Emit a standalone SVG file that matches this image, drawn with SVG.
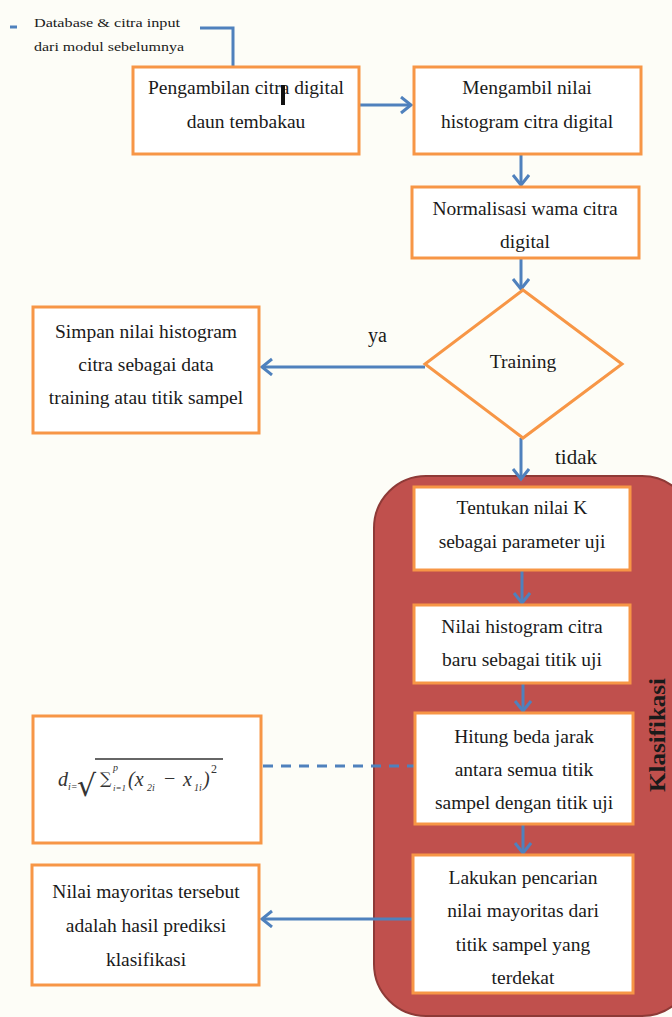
<svg xmlns="http://www.w3.org/2000/svg" width="672" height="1017" viewBox="0 0 672 1017">
<style>
.box{fill:#ffffff;stroke:#F79646;stroke-width:3}
.t{font-family:"Liberation Serif","Times New Roman",serif;font-size:19.5px;fill:#1a1a1a;text-anchor:middle}
.lbl{font-family:"Liberation Serif","Times New Roman",serif;fill:#1a1a1a}
.c{fill:none;stroke:#4F81BD;stroke-width:3}
.m{font-family:"Liberation Serif","Times New Roman",serif;font-style:italic;fill:#333333}
</style>
<defs>
<marker id="ah" markerUnits="userSpaceOnUse" markerWidth="16" markerHeight="20" refX="11" refY="9" orient="auto">
<path d="M1,1 L11,9 L1,17" fill="none" stroke="#4F81BD" stroke-width="3"/>
</marker>
</defs>
<rect x="0" y="0" width="672" height="1017" fill="#FDFDF7"/>

<g id="klasifikasi">
<rect x="374" y="476" width="320" height="540" rx="52" fill="#C0504D" stroke="#8E3A37" stroke-width="2"/>
<text class="lbl" transform="translate(665,735) rotate(-90)" font-size="23" font-weight="bold" text-anchor="middle" textLength="114" lengthAdjust="spacingAndGlyphs">Klasifikasi</text>
</g>

<g id="connectors">
<line x1="10" y1="27" x2="17" y2="27" stroke="#4F81BD" stroke-width="3"/>
<polyline class="c" points="200,28 233,28 233,67"/>
<line class="c" x1="360" y1="105" x2="411" y2="105" marker-end="url(#ah)"/>
<line class="c" x1="521" y1="155" x2="521" y2="185" marker-end="url(#ah)"/>
<line class="c" x1="521" y1="258" x2="521" y2="289" marker-end="url(#ah)"/>
<line class="c" x1="425" y1="367" x2="262" y2="367" marker-end="url(#ah)"/>
<line class="c" x1="521" y1="438" x2="521" y2="479" marker-end="url(#ah)"/>
<line class="c" x1="522" y1="571" x2="522" y2="603" marker-end="url(#ah)"/>
<line class="c" x1="523" y1="684" x2="523" y2="711" marker-end="url(#ah)"/>
<line class="c" x1="523" y1="825" x2="523" y2="853" marker-end="url(#ah)"/>
<line class="c" x1="263" y1="766" x2="414" y2="766" stroke-dasharray="10,8"/>
<line class="c" x1="413" y1="919" x2="262" y2="919" marker-end="url(#ah)"/>
</g>

<g id="input-label">
<text class="lbl" x="34" y="27" font-size="13" textLength="146" lengthAdjust="spacingAndGlyphs">Database &amp; citra input</text>
<text class="lbl" x="34" y="51" font-size="13" textLength="150" lengthAdjust="spacingAndGlyphs">dari modul sebelumnya</text>
</g>

<g id="n1">
<rect class="box" x="133" y="67" width="226" height="87"/>
<text class="t" x="246" y="94">Pengambilan citra digital</text>
<text class="t" x="246" y="128">daun tembakau</text>
<rect x="281" y="85" width="4" height="20" fill="#111111"/>
</g>

<g id="n2">
<rect class="box" x="414" y="67" width="227" height="87"/>
<text class="t" x="527" y="94">Mengambil nilai</text>
<text class="t" x="527" y="128">histogram citra digital</text>
</g>

<g id="n3">
<rect class="box" x="412" y="187" width="227" height="71"/>
<text class="t" x="525" y="215">Normalisasi wama citra</text>
<text class="t" x="525" y="248">digital</text>
</g>

<g id="n4">
<polygon points="523,290 622,364 523,438 425,364" fill="#FDFDF7" stroke="#F79646" stroke-width="3"/>
<text class="t" x="523" y="368">Training</text>
</g>

<g id="lbl-ya"><text class="lbl" x="368" y="342" font-size="20">ya</text></g>
<g id="lbl-tidak"><text class="lbl" x="555" y="464" font-size="21">tidak</text></g>

<g id="n5">
<rect class="box" x="33" y="307" width="226" height="126"/>
<text class="t" x="146" y="338">Simpan nilai histogram</text>
<text class="t" x="146" y="371">citra sebagai data</text>
<text class="t" x="146" y="404">training atau titik sampel</text>
</g>

<g id="n6">
<rect class="box" x="414" y="487" width="216" height="83"/>
<text class="t" x="522" y="514">Tentukan nilai K</text>
<text class="t" x="522" y="548">sebagai parameter uji</text>
</g>

<g id="n7">
<rect class="box" x="414" y="605" width="216" height="78"/>
<text class="t" x="522" y="633">Nilai histogram citra</text>
<text class="t" x="522" y="666">baru sebagai titik uji</text>
</g>

<g id="n8">
<rect class="box" x="415" y="713" width="218" height="111"/>
<text class="t" x="524" y="743">Hitung beda jarak</text>
<text class="t" x="524" y="776">antara semua titik</text>
<text class="t" x="524" y="809">sampel dengan titik uji</text>
</g>

<g id="n9">
<rect class="box" x="413" y="855" width="220" height="138"/>
<text class="t" x="523" y="884">Lakukan pencarian</text>
<text class="t" x="523" y="917">nilai mayoritas dari</text>
<text class="t" x="523" y="951">titik sampel yang</text>
<text class="t" x="523" y="984">terdekat</text>
</g>

<g id="n10">
<rect class="box" x="33" y="716" width="228" height="127"/>
<text class="m" x="58" y="786" font-size="20">d</text>
<text class="m" x="68" y="790" font-size="10">i=</text>
<text x="77" y="796" font-family="DejaVu Serif,serif" font-size="30" fill="#333333">√</text>
<line x1="95" y1="759" x2="223" y2="759" stroke="#333333" stroke-width="1.5"/>
<text x="100" y="784" font-family="DejaVu Serif,serif" font-size="16" fill="#333333">∑</text>
<text class="m" x="113" y="771" font-size="10">p</text>
<text class="m" x="113" y="791" font-size="9">i=1</text>
<text class="m" x="128" y="786" font-size="20">(x</text>
<text class="m" x="147" y="791" font-size="10">2i</text>
<text x="164" y="785" font-family="Liberation Serif,serif" font-size="20" fill="#333333">−</text>
<text class="m" x="183" y="786" font-size="20">x</text>
<text class="m" x="194" y="791" font-size="10">1i</text>
<text class="m" x="203" y="786" font-size="20">)</text>
<text x="211" y="773" font-family="Liberation Serif,serif" font-size="12" fill="#333333">2</text>
</g>

<g id="n11">
<rect class="box" x="32" y="865" width="227" height="120"/>
<text class="t" x="146" y="898">Nilai mayoritas tersebut</text>
<text class="t" x="146" y="932">adalah hasil prediksi</text>
<text class="t" x="146" y="966">klasifikasi</text>
</g>
</svg>
